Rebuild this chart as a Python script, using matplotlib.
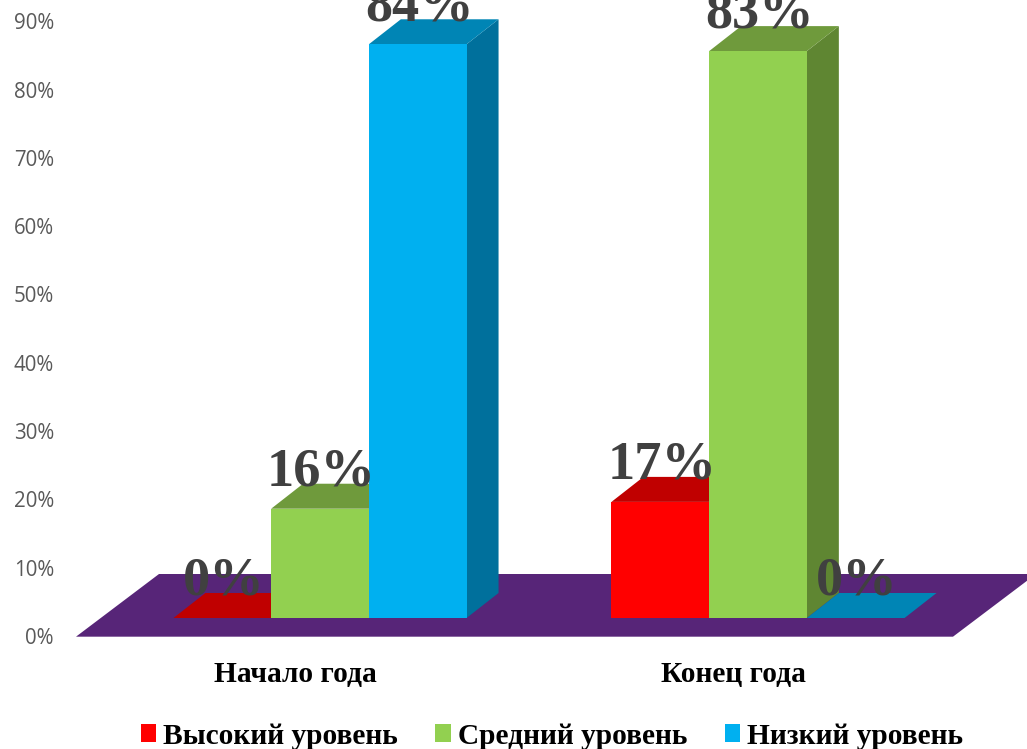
import matplotlib
matplotlib.use("Agg")
import matplotlib.pyplot as plt
from matplotlib.patches import Polygon, Patch

categories = ["Начало года", "Конец года"]
series_names = ["Высокий уровень", "Средний уровень", "Низкий уровень"]
high = [0, 17]
medium = [16, 83]
low = [84, 0]
value_labels = [["0%", "17%"], ["16%", "83%"], ["84%", "0%"]]
y_ticks = [0, 10, 20, 30, 40, 50, 60, 70, 80, 90]

front = ["#FF0000", "#92D050", "#00B0F0"]
top = ["#C00000", "#6F9A3C", "#0085B5"]
side = ["#A00000", "#5F8632", "#00709C"]
floor_color = "#572578"

W, H = 1027, 749
PX_X = 438.0      # pixels per category
PX_Y = 6.83       # pixels per percentage point
AX_L, AX_B = 56, H - 636

fig = plt.figure(figsize=(W / 100, H / 100), dpi=100)
ax = fig.add_axes([AX_L / W, AX_B / H, (W - AX_L) / W, 636 / H])
ax.set_xlim((AX_L - 320) / PX_X, (W - 320) / PX_X)
ax.set_ylim(0, 636 / PX_Y)
for s in ax.spines.values():
    s.set_visible(False)

dx, dy = 32 / PX_X, 25 / PX_Y      # depth of a bar
base = 18 / PX_Y                   # lift of the bar base over the floor edge
bar_w = 97.7 / PX_X

# floor
fl, fr = -244 / PX_X, 633 / PX_X
fdx, fdy = 83 / PX_X, 62 / PX_Y
ax.add_patch(Polygon([(fl, -0.1), (fr, -0.1), (fr + fdx, fdy), (fl + fdx, fdy)],
                     closed=True, fc=floor_color, ec="none", clip_on=False, zorder=1))

z = 2
for s_i, values in enumerate([high, medium, low]):
    for c_i, v in enumerate(values):
        x0 = c_i + (s_i - 1.5) * bar_w
        x1 = x0 + bar_w
        y0, y1 = base, base + v
        ax.add_patch(Polygon([(x1, y0), (x1 + dx, y0 + dy), (x1 + dx, y1 + dy), (x1, y1)],
                             fc=side[s_i], ec="none", clip_on=False, zorder=z))
        ax.add_patch(Polygon([(x0, y1), (x1, y1), (x1 + dx, y1 + dy), (x0 + dx, y1 + dy)],
                             fc=top[s_i], ec="none", clip_on=False, zorder=z))
        ax.add_patch(Polygon([(x0, y0), (x1, y0), (x1, y1), (x0, y1)],
                             fc=front[s_i], ec="none", clip_on=False, zorder=z))
        ax.annotate(value_labels[s_i][c_i], xy=(x0 + bar_w / 2, y1), xytext=(1.5 * 0.72, 23.5 * 0.72),
                    textcoords="offset points", ha="center", va="baseline",
                    fontfamily="Liberation Serif", fontweight="bold", fontsize=39.2,
                    color="#404040", zorder=10, annotation_clip=False)
    z += 1

ax.set_yticks(y_ticks)
ax.set_yticklabels([f"{t}%" for t in y_ticks], fontfamily="Open Sans", fontsize=14.8, color="#595959")
ax.set_xticks([i - 24.5 / PX_X for i in range(len(categories))])
ax.set_xticklabels(categories, fontfamily="Liberation Serif", fontweight="bold", fontsize=21.2, color="black")
ax.tick_params(axis="y", length=0, pad=1.5)
ax.tick_params(axis="x", length=0, pad=18)

handles = [Patch(fc=c, ec="none") for c in front]
fig.legend(handles, series_names, loc="center", bbox_to_anchor=(552 / W, 1 - 736 / H), ncol=3,
           frameon=False, handlelength=0.52, handleheight=0.52, handletextpad=0.24, columnspacing=1.28,
           borderpad=0, prop={"family": "Liberation Serif", "weight": "bold", "size": 21.2})

fig.savefig("out.png", dpi=100)
